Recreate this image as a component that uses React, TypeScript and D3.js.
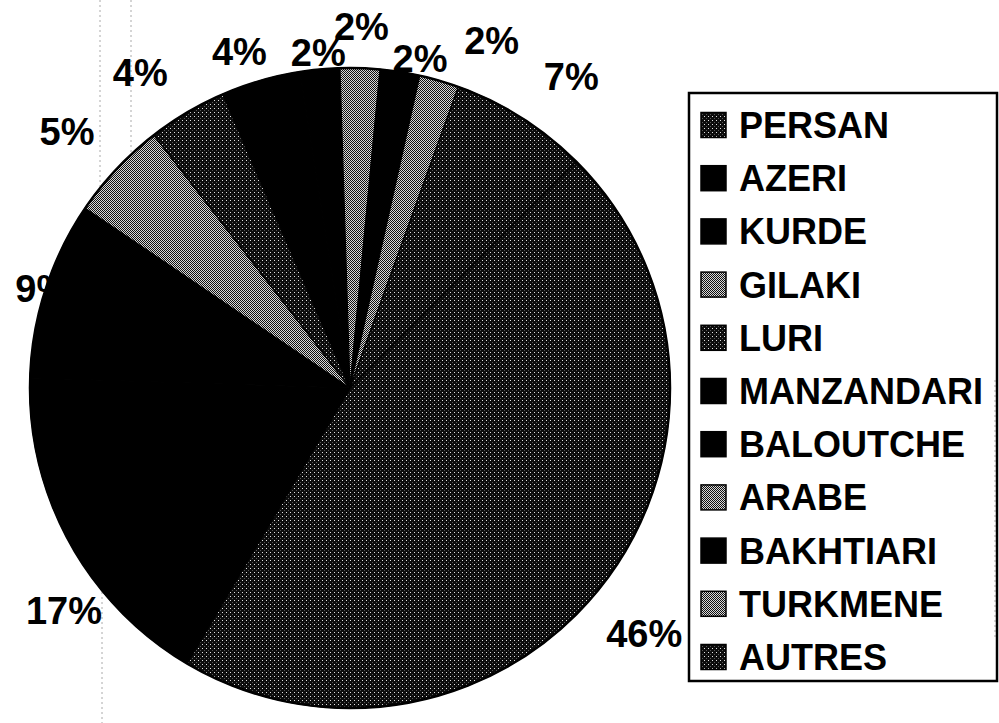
import React from 'react';
import * as d3 from 'd3';

// Langues parlées (%), dans l'ordre de la légende
const languages = ['PERSAN', 'AZERI', 'KURDE', 'GILAKI', 'LURI', 'MANZANDARI', 'BALOUTCHE', 'ARABE', 'BAKHTIARI', 'TURKMENE', 'AUTRES'];
const shares = [46, 17, 9, 5, 4, 4, 2, 2, 2, 2, 7];
const fills = ['dark', 'black', 'black', 'light', 'dark', 'black', 'black', 'light', 'black', 'light', 'dark'];

// placement of the % labels (radius from centre, angle shift in degrees)
const labelRadius = [383, 362, 323, 382, 379, 354, 337, 362, 337, 375, 382];
const labelShift = [2, -9, 0, -1, -3, -2, 0, 0, 3, 6, 3];

const width = 999;
const height = 723;
const cx = 350;
const cy = 388;
const radius = 320;
const startDeg = 45;

const fillUrl = (f: string) => (f === 'black' ? '#000' : `url(#pat-${f})`);

const App = () => {
  const rad = (d: number) => (d * Math.PI) / 180;

  const data = languages.map((name, i) => ({ name, value: shares[i], fill: fills[i] }));

  const pie = d3
    .pie<{ name: string; value: number; fill: string }>()
    .sort(null)
    .value(d => d.value)
    .startAngle(rad(startDeg))
    .endAngle(rad(startDeg + 360));

  const arcs = pie(data);
  const arc = d3.arc<d3.PieArcDatum<any>>().innerRadius(0).outerRadius(radius);

  const legendY = d3
    .scalePoint<string>()
    .domain(languages)
    .range([125, 657]);

  return (
    <svg
      width={width}
      height={height}
      style={{ position: 'absolute', left: 0, top: 0, background: '#fff' }}
      fontFamily="'Liberation Sans', Arial, Helvetica, sans-serif"
      fontWeight="bold"
    >
      <defs>
        <pattern id="pat-light" width="2" height="2" patternUnits="userSpaceOnUse">
          <rect width="2" height="2" fill="#d8d8d8" />
          <rect x="0" y="0" width="1" height="1" fill="#111" />
          <rect x="1" y="1" width="1" height="1" fill="#111" />
        </pattern>
        <pattern id="pat-dark" width="4" height="4" patternUnits="userSpaceOnUse">
          <rect width="4" height="4" fill="#0c0c0c" />
          <rect x="0" y="0" width="1" height="1" fill="#e0e0e0" />
          <rect x="2" y="2" width="1" height="1" fill="#555" />
        </pattern>
      </defs>

      {/* scan artefacts: faint dotted guides */}
      <g stroke="#aaa" strokeWidth={1} strokeDasharray="2,3">
        <line x1={100} y1={0} x2={100} y2={190} />
        <line x1={131} y1={0} x2={131} y2={157} />
        <line x1={102} y1={587} x2={102} y2={723} />
        <line x1={995} y1={380} x2={995} y2={640} />
      </g>

      {/* labels sit under the pie (the 9% is partly hidden, as in the original) */}
      <g fontSize={38} textAnchor="middle" fill="#000">
        {arcs.map((a, i) => {
          const mid = (a.startAngle + a.endAngle) / 2 + rad(labelShift[i]);
          const r = labelRadius[i];
          return (
            <text key={a.data.name} x={cx + r * Math.sin(mid)} y={cy - r * Math.cos(mid)} dy="0.36em">
              {`${a.data.value}%`}
            </text>
          );
        })}
      </g>

      <g transform={`translate(${cx},${cy})`}>
        {arcs.map(a => (
          <path key={a.data.name} d={arc(a) ?? ''} fill={fillUrl(a.data.fill)} stroke="#000" strokeWidth={1.2} />
        ))}
        <circle r={radius} fill="none" stroke="#000" strokeWidth={2.5} />
      </g>

      {/* legend */}
      <rect x={689} y={93} width={308} height={588} fill="none" stroke="#000" strokeWidth={2.5} />
      <g fontSize={36}>
        {data.map(d => {
          const y = legendY(d.name) ?? 0;
          return (
            <g key={d.name}>
              <rect x={701} y={y - 12.5} width={25} height={25} fill={fillUrl(d.fill)} stroke="#000" strokeWidth={1.5} />
              <text x={739} y={y} dy="0.36em" fill="#000">
                {d.name}
              </text>
            </g>
          );
        })}
      </g>
    </svg>
  );
};

export default App;
